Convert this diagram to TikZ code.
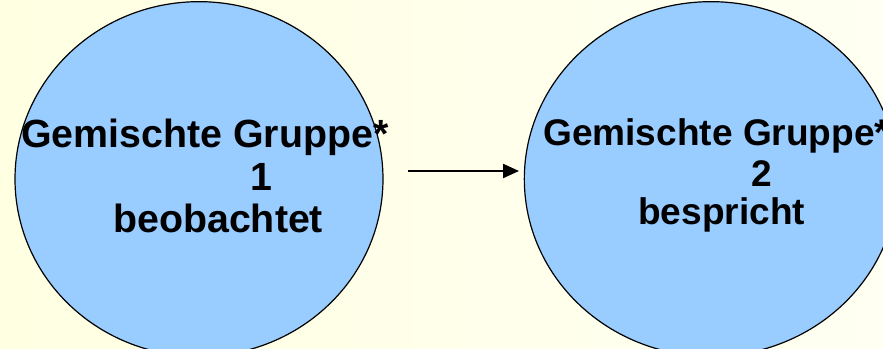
\documentclass[tikz,border=0pt]{standalone}
\usepackage{fontspec}
\setmainfont{Liberation Sans}
\usetikzlibrary{shapes.geometric,arrows.meta}
\definecolor{hellblau}{HTML}{99CCFF}
\definecolor{gelb}{HTML}{FFFFE2}
\definecolor{hellgelb}{HTML}{FFFFF2}
\tikzset{
  gruppe/.style={ellipse,draw,line width=0.9pt,fill=hellblau,
    minimum width=276pt,minimum height=266pt,inner sep=0pt},
  zeile/.style={anchor=base west,inner sep=0pt,
    font=\bfseries\fontsize{29.5}{30}\selectfont},
  zeilezwei/.style={zeile,font=\bfseries\fontsize{27.8}{28}\selectfont},
  pfeil/.style={-{Triangle[length=12pt,width=10.5pt]},line width=1.5pt},
}

\begin{document}
\begin{tikzpicture}[x=0.75pt,y=-0.75pt]
  \clip (0,0) rectangle (883,349);
  \shade[shading angle=135,left color=gelb,right color=hellgelb]
    (0,0) rectangle (883,349);

  % die beiden Gruppen
  \node[gruppe] (g1) at (199,179) {};
  \node[gruppe,minimum width=280pt] (g2) at (711,179) {};

  % Gruppe 1
  \node[zeile] (g1a) at (21,148) {Gemischte Gruppe*};
  \node[zeile,anchor=base] (g1b) at (261,191) {1};
  \node[zeile] (g1c) at (113,233) {beobachtet};

  % Gruppe 2
  \node[zeilezwei] (g2a) at (543,146) {Gemischte Gruppe*};
  \node[zeilezwei,anchor=base] (g2b) at (762,187) {2};
  \node[zeilezwei] (g2c) at (638,225) {bespricht};

  \draw[pfeil,shorten <=18pt,shorten >=3.5pt]
    ([yshift=6pt]g1.east) -- ([yshift=6pt]g2.west);
\end{tikzpicture}
\end{document}
